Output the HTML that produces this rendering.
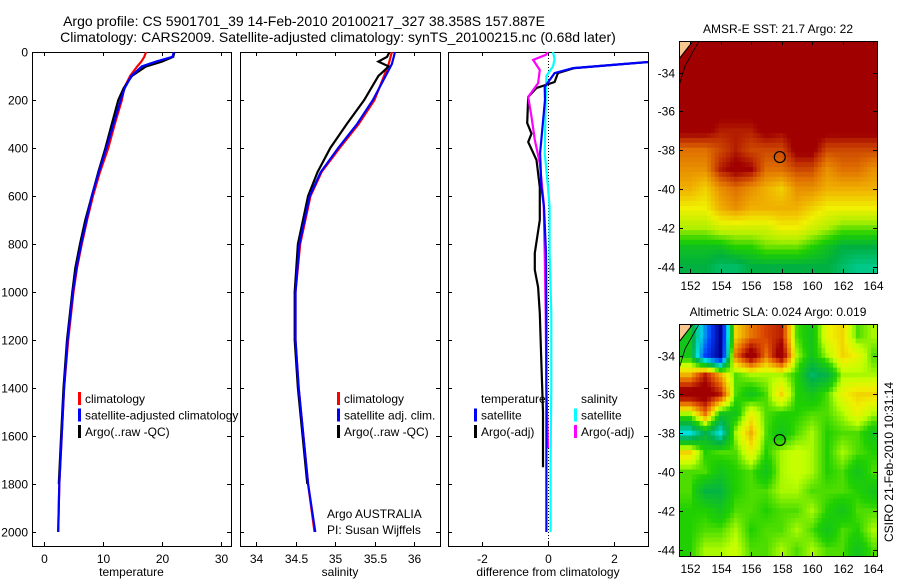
<!DOCTYPE html>
<html><head><meta charset="utf-8">
<style>
html,body{margin:0;padding:0;background:#fff;}
svg{display:block;font-family:"Liberation Sans",sans-serif;}
</style></head>
<body>
<svg id="fig" width="900" height="580" viewBox="0 0 900 580" xmlns="http://www.w3.org/2000/svg">
<g font-size="14" text-anchor="middle" fill="#000">
<text x="304" y="26">Argo profile: CS 5901701_39 14-Feb-2010 20100217_327 38.358S 157.887E</text>
<text x="338" y="42">Climatology: CARS2009. Satellite-adjusted climatology: synTS_20100215.nc (0.68d later)</text>
</g>
<g id="layer"></g>
</svg>
<script>
// ---------- data ----------
const tempDepth = [0,20,40,60,100,150,200,300,400,500,600,700,800,900,1000,1200,1400,1600,1800,2000];
const tempClim  = [17.3,17.0,16.5,15.8,14.6,13.6,13.2,12.0,10.9,9.5,8.3,7.3,6.4,5.6,5.0,4.1,3.4,3.0,2.6,2.4];
const tempSat   = [22.0,21.8,19.0,16.6,14.8,13.7,13.0,11.8,10.6,9.3,8.1,7.2,6.3,5.5,4.9,4.0,3.4,3.0,2.6,2.4];
const tempArgoDepth = [0,20,40,60,100,150,200,300,400,500,600,700,800,900,1000,1200,1400,1600,1800];
const tempArgo  = [22.1,21.9,20.0,17.3,14.9,13.5,12.6,11.5,10.4,9.2,8.1,7.0,6.1,5.3,4.8,3.9,3.3,2.9,2.5];

const salDepth = [0,50,100,200,300,400,500,600,800,1000,1200,1400,1600,1800,2000];
const salClim  = [35.72,35.68,35.62,35.50,35.30,35.06,34.83,34.69,34.56,34.50,34.50,34.54,34.60,34.66,34.74];
const salSat   = [35.76,35.72,35.64,35.48,35.28,35.04,34.82,34.68,34.55,34.50,34.50,34.54,34.60,34.66,34.75];
const salArgoDepth = [0,20,40,60,100,200,300,400,500,600,800,1000,1200,1400,1600,1800];
const salArgo  = [35.69,35.66,35.55,35.68,35.55,35.37,35.15,34.94,34.78,34.66,34.53,34.49,34.49,34.53,34.59,34.65];

const dTSatDepth = [0,30,42,67,88,146,200,421,563,646,838,1088,1400,1700,2000];
const dTSat      = [4.5,4.4,3.0,0.76,0.2,-0.1,-0.09,-0.24,-0.2,-0.12,-0.06,-0.05,-0.05,-0.05,-0.05];
const dTArgoDepth = [0,30,42,67,88,125,150,187,296,340,375,450,563,700,838,908,980,1088,1300,1500,1730];
const dTArgo      = [4.5,4.4,3.0,0.8,0.3,0.2,-0.35,-0.6,-0.63,-0.5,-0.6,-0.35,-0.25,-0.25,-0.4,-0.4,-0.3,-0.25,-0.2,-0.15,-0.15];
const dSArgoDepth = [0,12,33,75,130,187,270,366,463,630,838,1088,1400,1650];
const dSArgo      = [0.0,-0.07,-0.45,-0.25,-0.3,-0.6,-0.5,-0.4,-0.25,-0.13,-0.1,-0.07,-0.05,0.0];
const dSSatDepth = [0,30,60,100,200,421,563,646,838,1088,1400,1700,2000];
const dSSat      = [0.15,0.2,0.15,-0.05,-0.07,-0.1,0.0,0.05,0.05,0.1,0.1,0.08,0.08];

const depthTicks = [0,200,400,600,800,1000,1200,1400,1600,1800,2000];
const tempTicks = [0,10,20,30];
const salTicks = [34,34.5,35,35.5,36];
const diffTicks = [-2,0,2];

const mapLons = [152,153,154,155,156,157,158,159,160,161,162,163,164];
const mapLats = [-33,-34,-35,-36,-37,-38,-39,-40,-41,-42,-43,-44];
const sstGrid = [
[22,22,22,22,22,22,22,22,22,22,22,22,22],
[22,22,22,22,22,22,22,22,22,22,22,22,22],
[22,22,22,22,22,22,22,22,22,22,22,22,22],
[22,22,22,22,22,22,22,22,22,22,22,22,22],
[22,22,21.5,21.5,21.5,22,21.8,22,22,22,22,22,22],
[20.5,20.5,21,21.5,21,21,21,22,22,21,21,21,21],
[20,20,21.5,22,21.8,20.5,20.5,21,21,20,20.5,20.5,20],
[19.5,19,20,20.5,20,19.5,19,20,20,19.5,19.5,19.5,19.5],
[18.5,18.5,19.5,20,19.5,19.5,19.5,19.5,19,18.5,18.5,18.5,18.5],
[17.5,17.5,18,18,18,18,18.5,18.5,18,17.5,17,17,17],
[16,16,16,16.5,16.5,17,17,17,16.5,16,15.5,15.5,15.5],
[15.5,15.5,15,15,15.5,15.5,15.5,15.5,15.5,15.5,15,14.5,14.5]];
const slaGrid = [
[0,-0.15,-0.3,0.1,0.15,0.18,0.2,0.03,0,0.08,0.1,0.03,0.05],
[0,-0.2,-0.3,0.15,0.25,0.15,0.25,0.05,0,0.05,0.1,0.08,0.03],
[0.12,0.2,0.12,0.03,0.05,0.05,0.05,0.02,-0.05,-0.03,0.05,0.05,0.05],
[0.25,0.25,0.2,0.03,0,0.03,0.1,0.02,0,0.03,0.08,0.1,0.1],
[0.05,0.15,0,0,0.08,0.03,0.02,0.02,0.03,0.03,0.05,0.08,0.05],
[-0.1,-0.03,-0.1,0.05,0.12,0.03,0,0.03,0.05,0.02,0.03,0.03,0],
[0.1,0.02,0.03,0.03,0.08,0.02,0.05,0.06,0.05,0.02,0.05,0.03,0.02],
[0.03,0.03,0,0.02,0.03,0,0.05,0.06,0.05,0.02,0.03,0,0.03],
[0.03,-0.03,-0.03,0.02,0.03,0.03,0.05,0.05,0.03,0.03,0.03,0.02,0],
[0.02,0.02,0,0.03,0.03,0.02,0.03,0.03,0.05,0.02,0,0.03,0.03],
[0.02,0.03,0.03,0.05,0.02,0.03,0.03,0.05,0.03,0,0.03,0.02,0.05],
[0.02,0.05,0.05,0.06,0.03,0.03,0.05,0.03,0.05,0.03,0.03,0,0.03]];
const argoLon = 157.887, argoLat = -38.358;
const lonTicks = [152,154,156,158,160,162,164];
const latTicks = [-34,-36,-38,-40,-42,-44];

// ---------- helpers ----------
const NS="http://www.w3.org/2000/svg";
const layer=document.getElementById('layer');
function mk(tag,attrs,parent){const e=document.createElementNS(NS,tag);for(const k in attrs)e.setAttribute(k,attrs[k]);(parent||layer).appendChild(e);return e;}
function txt(x,y,s,size,anchor,parent){const t=mk('text',{x:x,y:y,'font-size':size,'text-anchor':anchor||'middle',fill:'#000'},parent);t.textContent=s;return t;}
function lin(d0,d1,r0,r1){return v=>r0+(v-d0)*(r1-r0)/(d1-d0);}

const PT=52,PB=546;
const yD=lin(0,2000,52,532);
const panels=[
 {x0:32,x1:231,x:lin(0,30,44,221),ticks:tempTicks,label:'temperature',name:'temperature-panel'},
 {x0:240,x1:440,x:lin(34,36,256,414),ticks:salTicks,label:'salinity',name:'salinity-panel'},
 {x0:448,x1:648,x:lin(-2,2,482,614),ticks:diffTicks,label:'difference from climatology',name:'difference-panel'}
];
panels.forEach((p,i)=>{
  const g=mk('g',{});
  
  
  p.g=g;
  const cid='clip'+i;
  const cp=mk('clipPath',{id:cid},g);mk('rect',{x:p.x0,y:PT,width:p.x1-p.x0,height:PB-PT},cp);
  p.clip='url(#'+cid+')';
  mk('rect',{x:p.x0+0.5,y:PT+0.5,width:p.x1-p.x0,height:PB-PT,fill:'none',stroke:'#000','stroke-width':1},g);
  p.ticks.forEach(t=>{const x=Math.round(p.x(t))+0.5;
    mk('line',{x1:x,x2:x,y1:PB,y2:PB-4,stroke:'#000'},g);
    mk('line',{x1:x,x2:x,y1:PT,y2:PT+4,stroke:'#000'},g);
    const lb=txt(x,PB+17,String(t),12,'middle',g);
    
    
  });
  depthTicks.forEach(d=>{const y=Math.round(yD(d))+0.5;
    mk('line',{x1:p.x0,x2:p.x0+4,y1:y,y2:y,stroke:'#000'},g);
    mk('line',{x1:p.x1-4,x2:p.x1,y1:y,y2:y,stroke:'#000'},g);
    if(i===0){const lb=txt(p.x0-4,y+4,String(d),12,'end',g);
      
      }
  });
  const xl=txt((p.x0+p.x1)/2,576,p.label,12,'middle',g);
  
  
});
function profile(p,xs,ds,color,name,w){
  const pts=xs.map((v,k)=>p.x(v).toFixed(1)+','+yD(ds[k]).toFixed(1)).join(' ');
  const e=mk('polyline',{points:pts,fill:'none',stroke:color,'stroke-width':w||2.2,'clip-path':p.clip},p.g);
  
  
}
{const p=panels[2];const x=p.x(0)+0.5;
 const z=mk('line',{x1:x,x2:x,y1:PT,y2:PB,stroke:'#000','stroke-dasharray':'1,2'},p.g);
 
 }
profile(panels[0],tempClim,tempDepth,'#ff0000','temp-climatology-line');
profile(panels[0],tempArgo,tempArgoDepth,'#000000','temp-argo-line');
profile(panels[0],tempSat,tempDepth,'#0000ff','temp-satellite-line');
profile(panels[1],salClim,salDepth,'#ff0000','sal-climatology-line');
profile(panels[1],salArgo,salArgoDepth,'#000000','sal-argo-line');
profile(panels[1],salSat,salDepth,'#0000ff','sal-satellite-line');
profile(panels[2],dTArgo,dTArgoDepth,'#000000','diff-temp-argo-line');
profile(panels[2],dSArgo,dSArgoDepth,'#ff00ff','diff-sal-argo-line');
profile(panels[2],dSSat,dSSatDepth,'#00ffff','diff-sal-satellite-line');
profile(panels[2],dTSat,dTSatDepth,'#0000ff','diff-temp-satellite-line');

function legend(x,y,items,parent){
  items.forEach((it,k)=>{const yy=y+k*16.5;
    if(it[1]){const b=mk('rect',{x:x,y:yy-10,width:3,height:13,fill:it[1]},parent);
      
      }
    const t=txt(x+7,yy+1,it[0],12,'start',parent);
    
    
  });
}
legend(78,402,[['climatology','#ff0000'],['satellite-adjusted climatology','#0000ff'],['Argo(..raw -QC)','#000']],panels[0].g);
legend(337,402,[['climatology','#ff0000'],['satellite adj. clim.','#0000ff'],['Argo(..raw -QC)','#000']],panels[1].g);
legend(474,402,[['temperature',null],['satellite','#0000ff'],['Argo(-adj)','#000']],panels[2].g);
legend(574,402,[['salinity',null],['satellite','#00ffff'],['Argo(-adj)','#ff00ff']],panels[2].g);
{const a=txt(327,518,'Argo AUSTRALIA',12,'start',panels[1].g);
 
 
 const b=txt(327,534,'PI: Susan Wijffels',12,'start',panels[1].g);
 
 }

// ---------- maps ----------
function hex(c){return [parseInt(c.slice(1,3),16),parseInt(c.slice(3,5),16),parseInt(c.slice(5,7),16)];}
function ramp(stops,v){
  if(v<=stops[0][0])return stops[0][1];
  for(let k=1;k<stops.length;k++){if(v<=stops[k][0]){const a=stops[k-1],b=stops[k];const f=(v-a[0])/(b[0]-a[0]);
    const ca=hex(a[1]),cb=hex(b[1]);return 'rgb('+ca.map((c,j)=>Math.round(c+(cb[j]-c)*f)).join(',')+')';}}
  return stops[stops.length-1][1];
}
const sstStops=[[14.5,'#00c888'],[15.5,'#00b040'],[16.5,'#20d000'],[17.5,'#b0f000'],[18.5,'#f0f000'],[19.5,'#f0b000'],[20.5,'#e07000'],[21.3,'#c03000'],[21.8,'#a00000']];
const slaStops=[[-0.3,'#000090'],[-0.2,'#0040ff'],[-0.1,'#00e0e0'],[-0.04,'#00b050'],[0.02,'#20d000'],[0.055,'#c0ff00'],[0.085,'#f0f000'],[0.12,'#f0b000'],[0.17,'#e05000'],[0.22,'#a00000']];
function sample(grid,fr,fc){
  const R=grid.length-1,C=grid[0].length-1;
  fr=Math.max(0,Math.min(R,fr));fc=Math.max(0,Math.min(C,fc));
  const r0=Math.floor(fr),c0=Math.floor(fc),r1=Math.min(R,r0+1),c1=Math.min(C,c0+1);
  const a=fr-r0,b=fc-c0;
  return grid[r0][c0]*(1-a)*(1-b)+grid[r0][c1]*(1-a)*b+grid[r1][c0]*a*(1-b)+grid[r1][c1]*a*b;
}
function drawMap(top,bot,grid,stops,title,name,idx){
  const g=mk('g',{});
  
  
  const L=679,R=877;
  const xL=lin(152,164,690,873), yL=lin(-34,-44,top+31.5,top+225.5);
  const cid='mclip'+idx;const cp=mk('clipPath',{id:cid},g);mk('rect',{x:L,y:top,width:R-L,height:bot-top},cp);
  const cg=mk('g',{'clip-path':'url(#'+cid+')'},g);
  const step=0.25;
  for(let lat=mapLats[0]+0.75;lat>=mapLats[mapLats.length-1]-0.75;lat-=step){
    for(let lon=mapLons[0]-0.75;lon<=mapLons[mapLons.length-1]+0.75;lon+=step){
      const fr=(mapLats[0]-lat), fc=(lon-mapLons[0]);
      const v=sample(grid,fr,fc);
      const x0=xL(lon-step/2),x1=xL(lon+step/2),y0=yL(lat+step/2),y1=yL(lat-step/2);
      const cell=mk('rect',{x:x0.toFixed(1),y:y0.toFixed(1),width:(x1-x0+0.5).toFixed(1),height:(y1-y0+0.5).toFixed(1),fill:ramp(stops,v)},cg);
      
      
    }
  }
  const land=mk('polygon',{points:L+','+top+' '+(L+14)+','+top+' '+L+','+(top+18),fill:'#f8c890',stroke:'#000','stroke-width':1},cg);
  
  
  const coast=mk('polyline',{points:(L+20)+','+top+' '+(L+6)+','+(top+25)+' '+L+','+(top+45),fill:'none',stroke:'#000','stroke-width':0.8},cg);
  
  
  mk('rect',{x:L+0.5,y:top+0.5,width:R-L,height:bot-top,fill:'none',stroke:'#000'},g);
  lonTicks.forEach(t=>{const x=Math.round(xL(t))+0.5;
    mk('line',{x1:x,x2:x,y1:bot,y2:bot-4,stroke:'#000'},g);mk('line',{x1:x,x2:x,y1:top,y2:top+4,stroke:'#000'},g);
    const lb=txt(x,bot+17,String(t),12,'middle',g);
    
    });
  latTicks.forEach(t=>{const y=Math.round(yL(t))+0.5;
    mk('line',{x1:L,x2:L+4,y1:y,y2:y,stroke:'#000'},g);mk('line',{x1:R-4,x2:R,y1:y,y2:y,stroke:'#000'},g);
    const lb=txt(L-4,y+4,String(t),12,'end',g);
    
    });
  const c=mk('circle',{cx:xL(argoLon),cy:yL(argoLat),r:5.5,fill:'none',stroke:'#000','stroke-width':1.2},g);
  
  
  const tt=txt((L+R)/2,top-8,title,12,'middle',g);
  
  
}
drawMap(41,273,sstGrid,sstStops,'AMSR-E SST: 21.7 Argo: 22','sst-map',1);
drawMap(324,556,slaGrid,slaStops,'Altimetric SLA: 0.024 Argo: 0.019','sla-map',2);
{const t=txt(0,0,'CSIRO 21-Feb-2010 10:31:14',12,'middle');
 t.setAttribute('transform','translate(893,462) rotate(-90)');
 
 }
</script>
</body></html>
